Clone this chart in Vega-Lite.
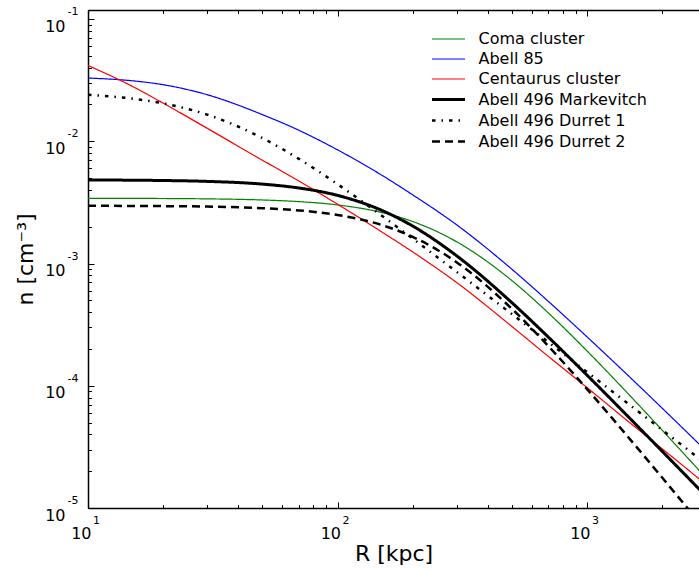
{
  "$schema": "https://vega.github.io/schema/vega-lite/v6.json",
  "width": 611,
  "height": 498,
  "autosize": {"type": "none"},
  "padding": {"left": 88, "top": 10, "right": 0, "bottom": 62},
  "config": {
    "font": "DejaVu Sans",
    "view": {"stroke": null},
    "axis": {"labelFont": "DejaVu Sans", "titleFont": "DejaVu Sans", "labelColor": "black", "titleColor": "black", "tickColor": "black", "domainColor": "black", "grid": false, "tickWidth": 1, "domainWidth": 1.5}
  },
  "data": {"values": [
    {"s": "Coma cluster", "R": 10, "n": 0.003415},
    {"s": "Coma cluster", "R": 15, "n": 0.003410},
    {"s": "Coma cluster", "R": 20, "n": 0.003402},
    {"s": "Coma cluster", "R": 30, "n": 0.003379},
    {"s": "Coma cluster", "R": 50, "n": 0.003309},
    {"s": "Coma cluster", "R": 70, "n": 0.003209},
    {"s": "Coma cluster", "R": 100, "n": 0.003014},
    {"s": "Coma cluster", "R": 150, "n": 0.002619},
    {"s": "Coma cluster", "R": 200, "n": 0.002208},
    {"s": "Coma cluster", "R": 300, "n": 0.001508},
    {"s": "Coma cluster", "R": 500, "n": 0.0007246},
    {"s": "Coma cluster", "R": 700, "n": 0.000394},
    {"s": "Coma cluster", "R": 1000, "n": 0.0001927},
    {"s": "Coma cluster", "R": 1500, "n": 0.00008135},
    {"s": "Coma cluster", "R": 2000, "n": 0.00004335},
    {"s": "Coma cluster", "R": 3000, "n": 0.00001763},
    {"s": "Abell 85", "R": 10, "n": 0.03289},
    {"s": "Abell 85", "R": 15, "n": 0.03126},
    {"s": "Abell 85", "R": 20, "n": 0.02902},
    {"s": "Abell 85", "R": 30, "n": 0.02404},
    {"s": "Abell 85", "R": 50, "n": 0.01652},
    {"s": "Abell 85", "R": 70, "n": 0.0123},
    {"s": "Abell 85", "R": 100, "n": 0.008511},
    {"s": "Abell 85", "R": 150, "n": 0.005297},
    {"s": "Abell 85", "R": 200, "n": 0.003648},
    {"s": "Abell 85", "R": 300, "n": 0.002075},
    {"s": "Abell 85", "R": 500, "n": 0.0008974},
    {"s": "Abell 85", "R": 700, "n": 0.0004898},
    {"s": "Abell 85", "R": 1000, "n": 0.0002512},
    {"s": "Abell 85", "R": 1500, "n": 0.0001153},
    {"s": "Abell 85", "R": 2000, "n": 0.00006561},
    {"s": "Abell 85", "R": 3000, "n": 0.00002938},
    {"s": "Centaurus cluster", "R": 10, "n": 0.04169},
    {"s": "Centaurus cluster", "R": 15, "n": 0.02825},
    {"s": "Centaurus cluster", "R": 20, "n": 0.02051},
    {"s": "Centaurus cluster", "R": 30, "n": 0.01279},
    {"s": "Centaurus cluster", "R": 50, "n": 0.006998},
    {"s": "Centaurus cluster", "R": 70, "n": 0.004732},
    {"s": "Centaurus cluster", "R": 100, "n": 0.003055},
    {"s": "Centaurus cluster", "R": 150, "n": 0.00182},
    {"s": "Centaurus cluster", "R": 200, "n": 0.001245},
    {"s": "Centaurus cluster", "R": 300, "n": 0.0007},
    {"s": "Centaurus cluster", "R": 500, "n": 0.0003055},
    {"s": "Centaurus cluster", "R": 700, "n": 0.0001738},
    {"s": "Centaurus cluster", "R": 1000, "n": 0.0000966},
    {"s": "Centaurus cluster", "R": 1500, "n": 0.00004898},
    {"s": "Centaurus cluster", "R": 2000, "n": 0.00003055},
    {"s": "Centaurus cluster", "R": 3000, "n": 0.00001556},
    {"s": "Abell 496 Markevitch", "R": 10, "n": 0.004824},
    {"s": "Abell 496 Markevitch", "R": 15, "n": 0.004803},
    {"s": "Abell 496 Markevitch", "R": 20, "n": 0.004775},
    {"s": "Abell 496 Markevitch", "R": 30, "n": 0.004697},
    {"s": "Abell 496 Markevitch", "R": 50, "n": 0.004461},
    {"s": "Abell 496 Markevitch", "R": 70, "n": 0.004148},
    {"s": "Abell 496 Markevitch", "R": 100, "n": 0.003608},
    {"s": "Abell 496 Markevitch", "R": 150, "n": 0.002728},
    {"s": "Abell 496 Markevitch", "R": 200, "n": 0.002027},
    {"s": "Abell 496 Markevitch", "R": 300, "n": 0.001158},
    {"s": "Abell 496 Markevitch", "R": 500, "n": 0.000478},
    {"s": "Abell 496 Markevitch", "R": 700, "n": 0.0002499},
    {"s": "Abell 496 Markevitch", "R": 1000, "n": 0.0001221},
    {"s": "Abell 496 Markevitch", "R": 1500, "n": 0.00005302},
    {"s": "Abell 496 Markevitch", "R": 2000, "n": 0.00002915},
    {"s": "Abell 496 Markevitch", "R": 3000, "n": 0.00001249},
    {"s": "Abell 496 Durret 1", "R": 10, "n": 0.02397},
    {"s": "Abell 496 Durret 1", "R": 15, "n": 0.02233},
    {"s": "Abell 496 Durret 1", "R": 20, "n": 0.02041},
    {"s": "Abell 496 Durret 1", "R": 30, "n": 0.01653},
    {"s": "Abell 496 Durret 1", "R": 50, "n": 0.01062},
    {"s": "Abell 496 Durret 1", "R": 70, "n": 0.00718},
    {"s": "Abell 496 Durret 1", "R": 100, "n": 0.004456},
    {"s": "Abell 496 Durret 1", "R": 150, "n": 0.002472},
    {"s": "Abell 496 Durret 1", "R": 200, "n": 0.0016},
    {"s": "Abell 496 Durret 1", "R": 300, "n": 0.0008559},
    {"s": "Abell 496 Durret 1", "R": 500, "n": 0.0003855},
    {"s": "Abell 496 Durret 1", "R": 700, "n": 0.0002273},
    {"s": "Abell 496 Durret 1", "R": 1000, "n": 0.0001297},
    {"s": "Abell 496 Durret 1", "R": 1500, "n": 0.00006849},
    {"s": "Abell 496 Durret 1", "R": 2000, "n": 0.00004357},
    {"s": "Abell 496 Durret 1", "R": 3000, "n": 0.000023},
    {"s": "Abell 496 Durret 2", "R": 10, "n": 0.002964},
    {"s": "Abell 496 Durret 2", "R": 15, "n": 0.002958},
    {"s": "Abell 496 Durret 2", "R": 20, "n": 0.002948},
    {"s": "Abell 496 Durret 2", "R": 30, "n": 0.002921},
    {"s": "Abell 496 Durret 2", "R": 50, "n": 0.002837},
    {"s": "Abell 496 Durret 2", "R": 70, "n": 0.002719},
    {"s": "Abell 496 Durret 2", "R": 100, "n": 0.002495},
    {"s": "Abell 496 Durret 2", "R": 150, "n": 0.002067},
    {"s": "Abell 496 Durret 2", "R": 200, "n": 0.001653},
    {"s": "Abell 496 Durret 2", "R": 300, "n": 0.001024},
    {"s": "Abell 496 Durret 2", "R": 500, "n": 0.0004262},
    {"s": "Abell 496 Durret 2", "R": 700, "n": 0.0002111},
    {"s": "Abell 496 Durret 2", "R": 1000, "n": 0.00009393},
    {"s": "Abell 496 Durret 2", "R": 1500, "n": 0.00003576},
    {"s": "Abell 496 Durret 2", "R": 2000, "n": 0.00001774},
    {"s": "Abell 496 Durret 2", "R": 2500, "n": 0.00001025},
    {"s": "Abell 496 Durret 2", "R": 3000, "n": 0.00000654}
  ]},
  "layer": [
    {
      "mark": {"type": "line", "interpolate": "monotone", "clip": true},
      "encoding": {
        "x": {"field": "R", "type": "quantitative",
          "scale": {"type": "log", "domain": [10, 2811], "nice": false},
          "axis": {
            "values": [10,20,30,40,50,60,70,80,90,100,200,300,400,500,600,700,800,900,1000,2000],
            "labelExpr": "abs(log(datum.value)/LN10 - round(log(datum.value)/LN10)) < 0.0001 ? '10' : ''",
            "labelFontSize": 16, "labelAlign": "right", "labelOffset": 3, "labelPadding": 23,
            "labelFlush": false, "labelOverlap": false, "labelBound": false,
            "tickSize": {"condition": {"test": "abs(log(datum.value)/LN10 - round(log(datum.value)/LN10)) < 0.0001", "value": -6}, "value": -3.5},
            "title": "R [kpc]", "titleFontSize": 22, "titleFontWeight": "normal", "titlePadding": 0
          }
        },
        "y": {"field": "n", "type": "quantitative",
          "scale": {"type": "log", "domain": [0.00001, 0.1185], "nice": false},
          "axis": {
            "values": [0.00001,0.00002,0.00003,0.00004,0.00005,0.00006,0.00007,0.00008,0.00009,0.0001,0.0002,0.0003,0.0004,0.0005,0.0006,0.0007,0.0008,0.0009,0.001,0.002,0.003,0.004,0.005,0.006,0.007,0.008,0.009,0.01,0.02,0.03,0.04,0.05,0.06,0.07,0.08,0.09,0.1],
            "labelExpr": "abs(log(datum.value)/LN10 - round(log(datum.value)/LN10)) < 0.0001 ? '10' : ''",
            "labelFontSize": 16, "labelAlign": "right", "labelBaseline": "middle", "labelOffset": 7, "labelPadding": 29,
            "labelFlush": false, "labelOverlap": false, "labelBound": false,
            "tickSize": {"condition": {"test": "abs(log(datum.value)/LN10 - round(log(datum.value)/LN10)) < 0.0001", "value": -6}, "value": -3.5},
            "title": "n [cm⁻³]", "titleFontSize": 22, "titleFontWeight": "normal", "titlePadding": 7
          }
        },
        "color": {"field": "s", "type": "nominal",
          "scale": {"domain": ["Coma cluster","Abell 85","Centaurus cluster","Abell 496 Markevitch","Abell 496 Durret 1","Abell 496 Durret 2"],
                    "range": ["#008000","#0000ff","#ff0000","#000000","#000000","#000000"]},
          "legend": {"title": null, "orient": "none", "legendX": 348, "legendY": 17,
                     "symbolType": "M-1.5,0H1.5", "symbolSize": 484, "labelFontSize": 16, "labelOffset": 17.5,
                     "rowPadding": 0, "padding": 0, "labelColor": "black", "labelFont": "DejaVu Sans", "labelLimit": 400}
        },
        "strokeDash": {"field": "s", "type": "nominal",
          "scale": {"domain": ["Coma cluster","Abell 85","Centaurus cluster","Abell 496 Markevitch","Abell 496 Durret 1","Abell 496 Durret 2"],
                    "range": [[1,0],[1,0],[1,0],[1,0],[3.5,6,1.5,6],[8,5]]}
        },
        "strokeWidth": {"field": "s", "type": "nominal",
          "scale": {"type": "ordinal", "domain": ["Coma cluster","Abell 85","Centaurus cluster","Abell 496 Markevitch","Abell 496 Durret 1","Abell 496 Durret 2"],
                    "range": [1.2,1.2,1.2,3,2.5,2.5]}
        }
      }
    },
    {
      "mark": {"type": "point", "opacity": 0},
      "encoding": {
        "x": {"field": "R", "type": "quantitative",
          "scale": {"type": "log", "domain": [10, 2811], "nice": false},
          "axis": {"orient": "bottom", "values": [10,100,1000], "labelExpr": "'' + round(log(datum.value)/LN10)",
                   "ticks": false, "domain": false, "labelFontSize": 11, "labelAlign": "left", "labelOffset": 4.5, "labelPadding": 6,
                   "labelFlush": false, "labelOverlap": false, "labelBound": false, "title": null}
        },
        "y": {"field": "n", "type": "quantitative",
          "scale": {"type": "log", "domain": [0.00001, 0.1185], "nice": false},
          "axis": {"orient": "left", "values": [0.00001,0.0001,0.001,0.01,0.1], "labelExpr": "'' + round(log(datum.value)/LN10)",
                   "ticks": false, "domain": false, "labelFontSize": 11, "labelAlign": "left", "labelBaseline": "middle", "labelOffset": -7.5, "labelPadding": 21,
                   "labelFlush": false, "labelOverlap": false, "labelBound": false, "title": null}
        }
      }
    },
    {
      "mark": {"type": "point", "opacity": 0},
      "encoding": {
        "x": {"field": "R", "type": "quantitative",
          "scale": {"type": "log", "domain": [10, 2811], "nice": false},
          "axis": {"orient": "top", "values": [10,20,30,40,50,60,70,80,90,100,200,300,400,500,600,700,800,900,1000,2000],
                   "labels": false, "title": null,
                   "tickSize": {"condition": {"test": "abs(log(datum.value)/LN10 - round(log(datum.value)/LN10)) < 0.0001", "value": -6}, "value": -3.5}}
        }
      }
    }
  ],
  "resolve": {"scale": {"x": "independent", "y": "independent"}}
}
